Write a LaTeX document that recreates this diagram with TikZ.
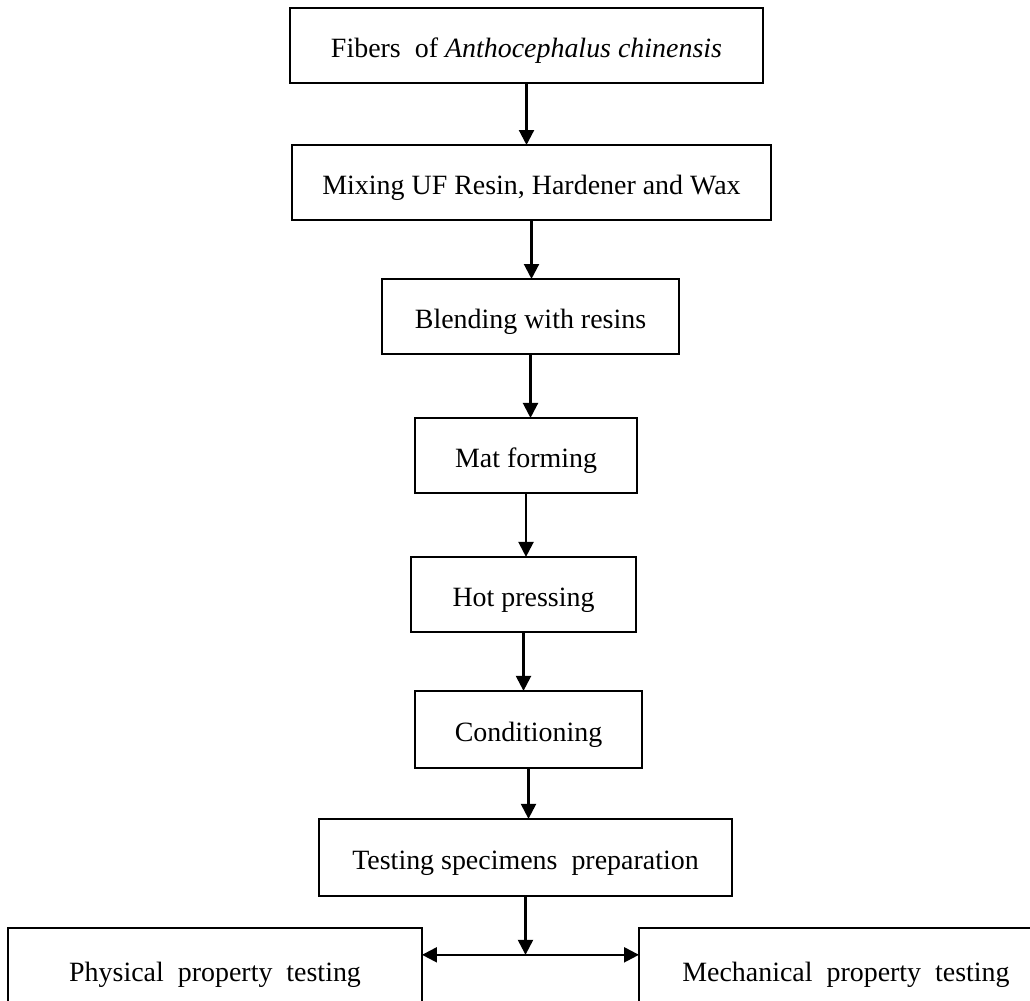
\documentclass[tikz,border=0pt]{standalone}
\usepackage{fontspec}
\setmainfont{Liberation Serif}
\usetikzlibrary{arrows.meta,positioning}

\tikzset{
  stepbox/.style={draw,line width=1.5pt,minimum height=1.5cm,inner sep=0pt,outer sep=0pt,align=center,
    text height=13.6pt,text depth=0pt,font=\fontsize{15.9}{19}\selectfont},
  flow/.style={-{Triangle[length=8.5pt,width=8.5pt]},line width=1.3pt},
}

\begin{document}
\begin{tikzpicture}[x=0.02cm,y=-0.02cm]
  \useasboundingbox (0,0) rectangle (1030,1000);
  \clip (0,0) rectangle (1030,1000);
  % process chain
  \node[stepbox,minimum width=9.46cm] (fib) at (526.5,45.5) {Fibers\ \ of \textit{Anthocephalus chinensis}};
  \node[stepbox,minimum width=9.58cm,below=1.24cm of fib,xshift=0.1cm] (mix) {Mixing UF Resin, Hardener and Wax};
  \node[stepbox,minimum width=5.94cm,below=1.18cm of mix,xshift=-0.02cm] (blend) {Blending with resins};
  \node[stepbox,minimum width=4.44cm,below=1.28cm of blend,xshift=-0.09cm] (mat) {Mat forming};
  \node[stepbox,minimum width=4.5cm,below=1.28cm of mat,xshift=-0.05cm] (hot) {Hot pressing};
  \node[stepbox,minimum width=4.54cm,minimum height=1.54cm,below=1.18cm of hot,xshift=0.1cm] (cond) {Conditioning};
  \node[stepbox,minimum width=8.26cm,minimum height=1.54cm,below=1.02cm of cond,xshift=-0.06cm] (test) {Testing specimens\ \ preparation};
  % two kinds of tests
  \node[stepbox,minimum width=8.28cm,minimum height=1.68cm,below=0.64cm of test,xshift=-6.21cm] (phys) {Physical\ \ property\ \ testing};
  \node[stepbox,minimum width=8.28cm,minimum height=1.68cm,below=0.64cm of test,xshift=6.41cm] (mech) {Mechanical\ \ property\ \ testing};
  \coordinate[below=1.18cm of test] (split);

  \foreach \a/\b in {fib/mix,mix/blend,blend/mat,mat/hot,hot/cond,cond/test}
    \draw[flow] (\a.south) -- (\a.south |- \b.north);
  \draw[flow] (test.south) -- (split);
  \draw[flow] (split) -- (split -| phys.east);
  \draw[flow] (split) -- (split -| mech.west);
\end{tikzpicture}
\end{document}
